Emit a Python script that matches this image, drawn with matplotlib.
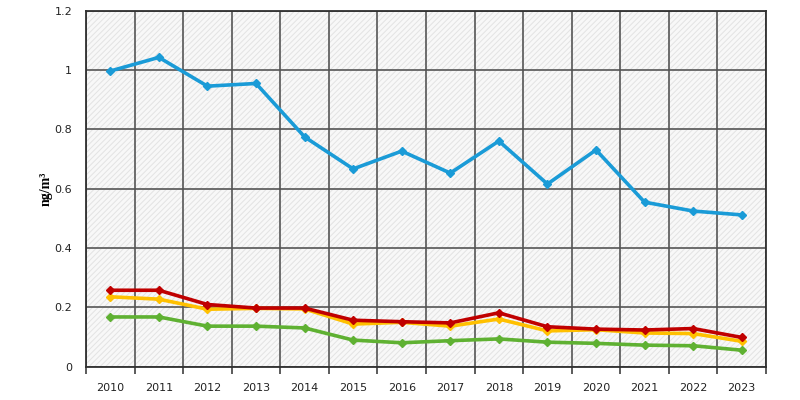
import numpy as np
import matplotlib.pyplot as plt
from matplotlib.patches import Rectangle

years = [str(y) for y in range(2010, 2024)]
blue = [0.997, 1.043, 0.946, 0.955, 0.775, 0.667, 0.727, 0.653, 0.761, 0.616, 0.731, 0.555, 0.525, 0.512]
green = [0.168, 0.168, 0.137, 0.137, 0.131, 0.090, 0.081, 0.088, 0.094, 0.083, 0.079, 0.073, 0.071, 0.056]
yellow = [0.236, 0.228, 0.194, 0.197, 0.195, 0.144, 0.150, 0.137, 0.161, 0.121, 0.125, 0.114, 0.112, 0.086]
red = [0.258, 0.258, 0.210, 0.198, 0.198, 0.157, 0.152, 0.148, 0.182, 0.135, 0.127, 0.124, 0.129, 0.099]

fig = plt.figure(figsize=(8, 4), dpi=100)
ax = fig.add_axes([0.1075, 0.083, 0.85, 0.89])

# light hatched background
plt.rcParams['hatch.color'] = '#e3e3e3'
plt.rcParams['hatch.linewidth'] = 0.7
ax.add_patch(Rectangle((0, 0), 1, 1, transform=ax.transAxes, facecolor='#f8f8f8',
                       hatch='//////', edgecolor='#e3e3e3', linewidth=0, zorder=0))

x = np.arange(len(years))
for vals, col in [(blue, '#1a9bd7'), (green, '#5fb132'), (yellow, '#ffc000'), (red, '#c00000')]:
    ax.plot(x, vals, color=col, lw=2.6, marker='D', ms=4.5, zorder=3)

ax.set_xlim(-0.5, len(years) - 0.5)
ax.set_ylim(0, 1.2)
ax.set_yticks([0, 0.2, 0.4, 0.6, 0.8, 1.0, 1.2])
ax.set_yticklabels(['0', '0.2', '0.4', '0.6', '0.8', '1', '1.2'])
ax.set_xticks(x)
ax.set_xticklabels(years)
ax.set_xticks(np.arange(-0.5, len(years)), minor=True)
ax.tick_params(axis='x', which='major', length=0, pad=12, labelsize=8, colors='#222222')
ax.tick_params(axis='x', which='minor', length=5, width=1.2, color='#404040')
ax.tick_params(axis='y', length=0, pad=10, labelsize=8, colors='#222222')

ax.grid(True, axis='y', color='#555555', lw=1.2, zorder=1)
ax.grid(True, axis='x', which='minor', color='#555555', lw=1.2, zorder=1)
ax.set_axisbelow(True)
for s in ax.spines.values():
    s.set_color('#303030')
    s.set_linewidth(1.3)

ax.set_ylabel('ng/m³', family='Liberation Serif', fontweight='bold', fontsize=10, labelpad=1)

fig.savefig('out.png', dpi=100)
